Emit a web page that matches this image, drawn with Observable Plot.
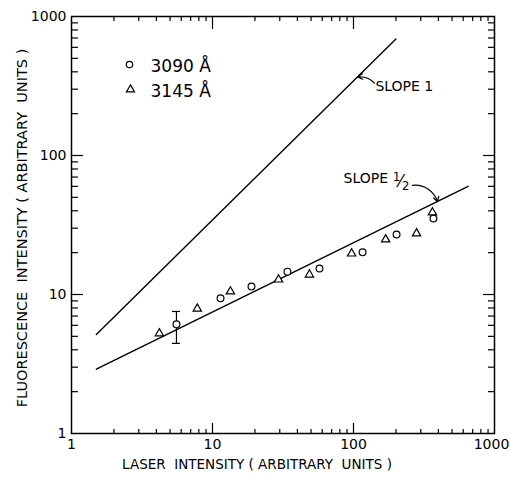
<!DOCTYPE html>
<html>
<head>
<meta charset="utf-8">
<script src="https://cdn.jsdelivr.net/npm/d3@7"></script>
<script src="https://cdn.jsdelivr.net/npm/@observablehq/plot@0.6"></script>
<style>
  html, body { margin: 0; padding: 0; background: #fff; }
  #chart svg { display: block; }
</style>
</head>
<body>
<div id="chart"></div>
<script>
// ---- data ----
const circleX = [5.55, 11.4, 18.9, 34.0, 57.4, 116, 202, 369];
const circleY = [6.1, 9.4, 11.4, 14.6, 15.4, 20.1, 27.0, 35.2];
const triX = [4.2, 7.8, 13.4, 29.4, 48.7, 97, 169, 280, 363];
const triY = [5.25, 7.9, 10.5, 12.8, 13.9, 19.7, 24.9, 27.5, 38.9];
const errX = [5.55];
const errLo = [4.45];
const errHi = [7.55];
const slope1X = [1.5, 200];
const slope1Y = [5.15, 690];
const slopeHalfX = [1.5, 650];
const slopeHalfY = [2.9, 60];
const majorTicks = [10, 100];
const minorTicks = [2,3,4,5,6,7,8,9,20,30,40,50,60,70,80,90,200,300,400,500,600,700,800,900];
const tickLabels = [1, 10, 100, 1000];
const legendLabels = ["3090 Å", "3145 Å"];
const xTitle = "LASER  INTENSITY ( ARBITRARY  UNITS )";
const yTitle = "FLUORESCENCE  INTENSITY ( ARBITRARY  UNITS )";
// annotation anchors (data units)
const slope1Label = {x: 143, y: 316, text: "SLOPE 1"};
const slope1Arrow = {x1: 141, y1: 332, x2: 107, y2: 368};
const slopeHalfLabel = {x: 85, y: 67.8, text: "SLOPE"};
const slopeHalfArrow = {x1: 262, y1: 61, x2: 394, y2: 46.5};

const circles = circleX.map((x, i) => ({x, y: circleY[i]}));
const tris = triX.map((x, i) => ({x, y: triY[i]}));
const errs = errX.map((x, i) => ({x, lo: errLo[i], hi: errHi[i]}));
const line1 = slope1X.map((x, i) => ({x, y: slope1Y[i]}));
const line2 = slopeHalfX.map((x, i) => ({x, y: slopeHalfY[i]}));

const font = "DejaVu Sans, sans-serif";
const W = 510, H = 480, ML = 71, MR = 16, MT = 16, MB = 47;
const PW = W - ML - MR, PH = H - MT - MB;
const MAJ = 11, MIN = 5;
const noText = () => "";
const ax = {tickFormat: noText, label: null, stroke: "#000", strokeWidth: 1.2, tickPadding: 0};

const chart = Plot.plot({
  width: W,
  height: H,
  marginLeft: ML,
  marginRight: MR,
  marginTop: MT,
  marginBottom: MB,
  style: {fontFamily: font, background: "#fff", color: "#000"},
  x: {type: "log", domain: [1, 1000], axis: null},
  y: {type: "log", domain: [1, 1000], axis: null},
  marks: [
    // inward ticks, drawn with Plot's axis marks (anchored on the opposite edge and shifted across)
    Plot.axisX({anchor: "top", ticks: minorTicks, tickSize: MIN, dy: PH, ...ax}),
    Plot.axisX({anchor: "top", ticks: majorTicks, tickSize: MAJ, dy: PH, ...ax}),
    Plot.axisX({anchor: "bottom", ticks: minorTicks, tickSize: MIN, dy: -PH, ...ax}),
    Plot.axisX({anchor: "bottom", ticks: majorTicks, tickSize: MAJ + 2, dy: -PH, ...ax}),
    Plot.axisY({anchor: "right", ticks: minorTicks, tickSize: MIN + 1, dx: -PW, ...ax}),
    Plot.axisY({anchor: "right", ticks: majorTicks, tickSize: MAJ, dx: -PW, ...ax}),
    Plot.axisY({anchor: "left", ticks: minorTicks, tickSize: MIN + 1, dx: PW, ...ax}),
    Plot.axisY({anchor: "left", ticks: majorTicks, tickSize: MAJ, dx: PW, ...ax}),
    Plot.frame({stroke: "#000", strokeWidth: 1.5}),
    // tick labels
    Plot.text(tickLabels.slice(0, 3), {x: d => d, y: 1, text: d => String(d), dy: 11, fontSize: 14, fill: "#000"}),
    Plot.text(tickLabels.slice(3), {x: d => d, y: 1, text: d => String(d), dy: 11, dx: -3, fontSize: 14, fill: "#000"}),
    Plot.text(tickLabels, {x: 1, y: d => d, text: d => String(d), dx: -5, textAnchor: "end", fontSize: 14, fill: "#000"}),
    // axis titles
    Plot.text([xTitle], {frameAnchor: "bottom", text: d => d, dx: -26, dy: 31, textAnchor: "middle", lineAnchor: "middle", fontSize: 13.5, fill: "#000"}),
    Plot.text([yTitle], {frameAnchor: "left", text: d => d, rotate: -90, dx: -49, dy: 3, textAnchor: "middle", lineAnchor: "middle", fontSize: 14.5, fill: "#000"}),
    // slope lines
    Plot.line(line1, {x: "x", y: "y", stroke: "#000", strokeWidth: 1.4}),
    Plot.line(line2, {x: "x", y: "y", stroke: "#000", strokeWidth: 1.4}),
    // error bar
    Plot.ruleX(errs, {x: "x", y1: "lo", y2: "hi", stroke: "#000", strokeWidth: 1.2}),
    Plot.ruleY(errs, {y: "lo", x1: "x", x2: "x", insetLeft: -4, insetRight: -4, stroke: "#000", strokeWidth: 1.2}),
    Plot.ruleY(errs, {y: "hi", x1: "x", x2: "x", insetLeft: -4, insetRight: -4, stroke: "#000", strokeWidth: 1.2}),
    // data points
    Plot.dot(circles, {x: "x", y: "y", r: 3.4, symbol: "circle", stroke: "#000", fill: "#fff", strokeWidth: 1.2}),
    Plot.dot(tris, {x: "x", y: "y", r: 3.1, symbol: "triangle", stroke: "#000", fill: "#fff", strokeWidth: 1.2}),
    // legend
    Plot.dot([0], {frameAnchor: "top-left", dx: 58, dy: 48, r: 3.2, symbol: "circle", stroke: "#000", fill: "none", strokeWidth: 1.2}),
    Plot.dot([0], {frameAnchor: "top-left", dx: 59, dy: 73, r: 3.0, symbol: "triangle", stroke: "#000", fill: "none", strokeWidth: 1.2}),
    Plot.text([legendLabels[0]], {frameAnchor: "top-left", text: d => d, dx: 79, dy: 50, textAnchor: "start", lineAnchor: "middle", fontSize: 17, fill: "#000"}),
    Plot.text([legendLabels[1]], {frameAnchor: "top-left", text: d => d, dx: 79, dy: 75, textAnchor: "start", lineAnchor: "middle", fontSize: 17, fill: "#000"}),
    // annotations
    Plot.text([slope1Label], {x: "x", y: "y", text: "text", textAnchor: "start", fontSize: 14, fill: "#000"}),
    Plot.arrow([slope1Arrow], {x1: "x1", y1: "y1", x2: "x2", y2: "y2", bend: -25, headLength: 7, stroke: "#000", strokeWidth: 1.2}),
    Plot.text([slopeHalfLabel], {x: "x", y: "y", text: "text", textAnchor: "start", fontSize: 14, fill: "#000"}),
    Plot.text([slopeHalfLabel], {x: "x", y: "y", text: () => "1", dx: 53, dy: -2, textAnchor: "middle", fontSize: 11.5, fill: "#000"}),
    Plot.text([slopeHalfLabel], {x: "x", y: "y", text: () => "\u2044", dx: 57, dy: 3, textAnchor: "middle", fontSize: 17, fill: "#000"}),
    Plot.text([slopeHalfLabel], {x: "x", y: "y", text: () => "2", dx: 62, dy: 7, textAnchor: "middle", fontSize: 11.5, fill: "#000"}),
    Plot.arrow([slopeHalfArrow], {x1: "x1", y1: "y1", x2: "x2", y2: "y2", bend: 40, headLength: 7, stroke: "#000", strokeWidth: 1.2})
  ]
});
document.getElementById("chart").appendChild(chart);
</script>
</body>
</html>
